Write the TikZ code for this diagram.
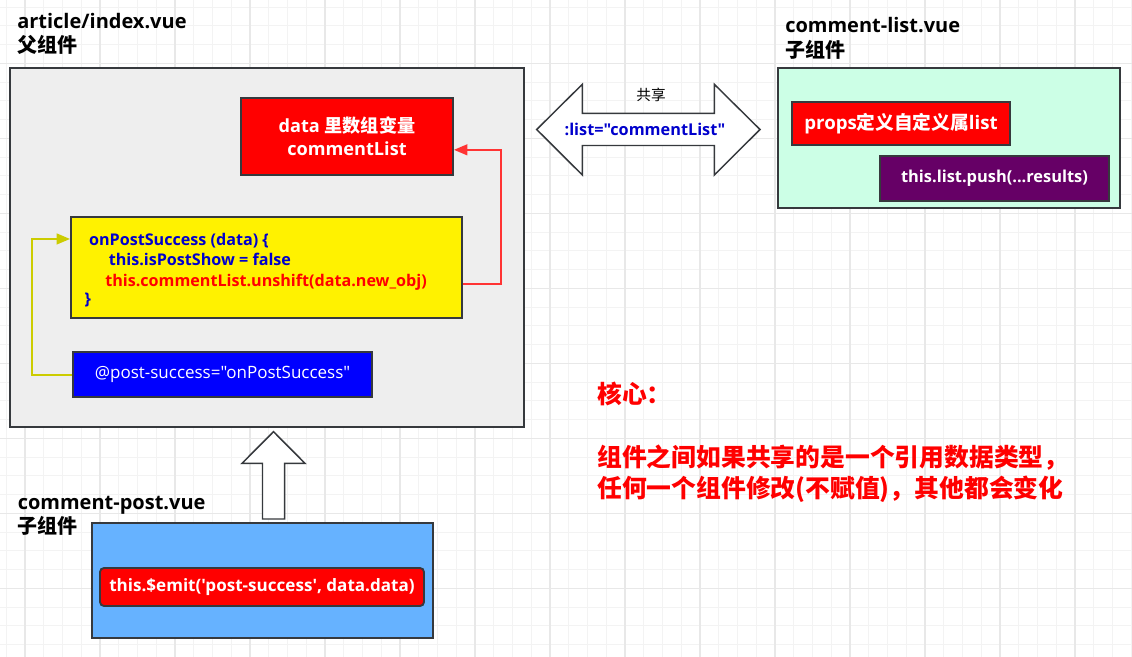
\documentclass[tikz,border=0pt]{standalone}
\usepackage{fontspec}
\setmainfont{Open Sans}[Ligatures=TeXOff]
\newfontfamily\cjk{Noto Sans CJK SC}
\usetikzlibrary{arrows.meta,positioning}
\definecolor{edge}{HTML}{36393D}
\definecolor{panel}{HTML}{EEEEEE}
\definecolor{mint}{HTML}{CCFFE6}
\definecolor{sky}{HTML}{66B2FF}
\definecolor{plum}{HTML}{660066}
\definecolor{codeblue}{HTML}{0000CC}
\definecolor{olive}{HTML}{CCCC00}
\definecolor{linkred}{HTML}{FF3333}
\definecolor{gridminor}{HTML}{F3F3F3}
\definecolor{gridmajor}{HTML}{E8E8E8}

\begin{document}
\begin{tikzpicture}[x=0.75pt, y=-0.75pt,
box/.style={draw=edge, line width=1.4pt, inner sep=0pt},
title/.style={anchor=base west, inner sep=0pt, font=\bfseries\fontsize{15}{18}\selectfont},
label/.style={text=white, align=center, font=\bfseries\fontsize{12.8}{17}\selectfont},
code/.style={anchor=base west, inner sep=0pt, font=\bfseries\fontsize{12.1}{14}\selectfont},
note/.style={anchor=base west, inner sep=0pt, text=red, font=\cjk\bfseries\fontsize{18.6}{22}\selectfont},
link/.style={line width=1.5pt, -{Triangle[length=10pt,width=8pt]}},
blockarrow/.style={draw=edge, fill=white, line width=1.1pt, line join=miter}]

\useasboundingbox [fill=white] (0,0) rectangle (1132,657);
% grid
\foreach \i in {0,...,60}
  \draw [gridminor, line width=0.75pt] ({6.25+\i*18.75},0) -- ++(0,657);
\foreach \i in {0,...,35}
  \draw [gridminor, line width=0.75pt] (0,{7.05+\i*18.75}) -- ++(1132,0);
\foreach \i in {0,...,15}
  \draw [gridmajor, line width=0.9pt] ({25+\i*75},0) -- ++(0,657);
\foreach \i in {0,...,7}
  \draw [gridmajor, line width=0.9pt] (0,{63.3+\i*75}) -- ++(1132,0);

% parent component
\node [title] (t_main) at (17,28) {article/index.vue};
\node [title] (t_main_cn) at (17,52) {\cjk 父组件};
\node [box, fill=panel, minimum width=385.5pt, minimum height=269.25pt] (main) at (267,247.5) {};
\node [box, fill=red, label, font=\bfseries\fontsize{13.6}{17.5}\selectfont, minimum width=159pt, minimum height=57.75pt]
  (dat) at (347,136.5) {data {\cjk 里数组变量}\\commentList};
\node [box, fill=yellow, minimum width=293.25pt, minimum height=75.75pt] (yel) at (266.5,267.5) {};
\node [code, text=codeblue] (code_1) at (88.8,245) {onPostSuccess (data) \{};
\node [code, text=codeblue] (code_2) at (108.5,265) {this.isPostShow = false};
\node [code, text=red] (code_3) at (105,286) {this.commentList.unshift(data.new\_obj)};
\node [code, text=codeblue] (code_4) at (84.4,304) {\}};
\node [box, fill=blue, text=white, font=\fontsize{12.75}{15}\selectfont, minimum width=224.25pt, minimum height=33.75pt]
  (blu) at (222.5,374.5) {@post-success="onPostSuccess"};

\draw [link, linkred] ([yshift=-12.4pt]yel.east) -- ++(38,0) |- ([yshift=-10pt]dat.east);
\draw [link, olive] (blu.west) -- ++(-40,0) |- ([yshift=21.4pt]yel.west);

% shared prop
\draw [blockarrow] (536.7,129.5) -- (582.3,84.3) -- (582.3,113.3) -- (714.3,113.3) -- (714.3,84.3)
  -- (760,129.5) -- (714.3,175) -- (714.3,145.5) -- (582.3,145.5) -- (582.3,175) -- cycle;
\node [font=\cjk\fontsize{11}{13}\selectfont] (share) at (651,95) {共享};
\node [text=codeblue, font=\bfseries\fontsize{12.2}{14}\selectfont] (prop) at (645,129) {:list="commentList"};

% child list
\node [title] (t_list) at (785,32) {comment-list.vue};
\node [title] (t_list_cn) at (785,57) {\cjk 子组件};
\node [box, fill=mint, minimum width=256.5pt, minimum height=105pt] (lst) at (949,138) {};
\node [box, fill=red, label, font=\bfseries\fontsize{14}{17}\selectfont, minimum width=163.5pt, minimum height=32.25pt]
  (prp) at (901,123.5) {props{\cjk 定义自定义属}list};
\node [box, fill=plum, label, font=\bfseries\fontsize{12.3}{15}\selectfont, minimum width=171.75pt, minimum height=33.75pt]
  (psh) at (994.5,178.5) {this.list.push(...results)};

% child post
\draw [blockarrow] (262.5,519) -- (262.5,463.3) -- (242,463.3) -- (273.5,431.7) -- (305,463.3)
  -- (284.6,463.3) -- (284.6,519) -- cycle;
\node [title] (t_post) at (17.5,509) {comment-post.vue};
\node [title] (t_post_cn) at (17.5,533) {\cjk 子组件};
\node [box, fill=sky, minimum width=255.75pt, minimum height=86.25pt] (pst) at (262.5,580.5) {};
\node [box, fill=red, rounded corners=3pt, label, minimum width=243pt, minimum height=28.5pt] (emt) at (262,587)
  {this.\$emit('post-success', data.data)};

% core note
\node [note] (core) at (597,403) {核心：};
\node [note] (core_1) at (597,466) {组件之间如果共享的是一个引用数据类型，};
\node [note] (core_2) at (597,497) {任何一个组件修改(不赋值)，其他都会变化};
\end{tikzpicture}
\end{document}
